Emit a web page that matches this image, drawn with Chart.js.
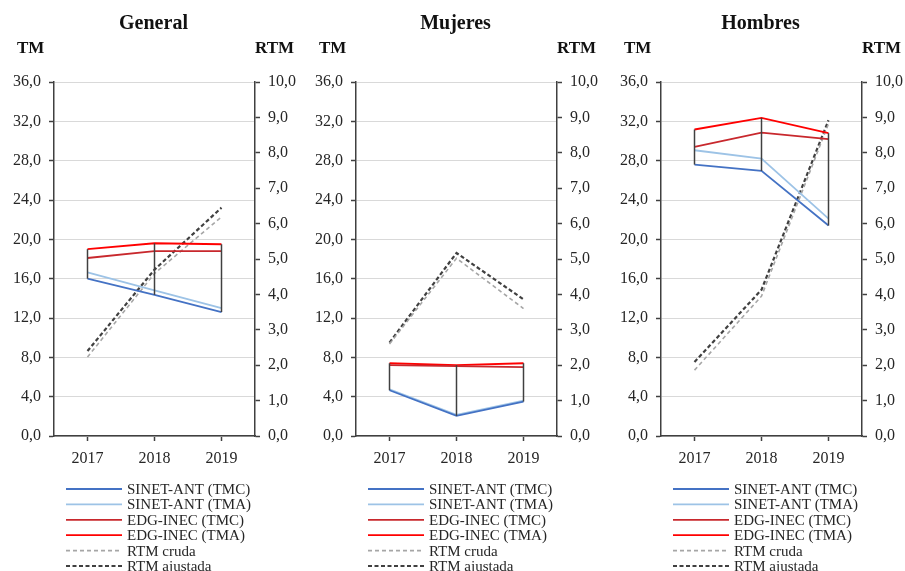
<!DOCTYPE html>
<html lang="es">
<head>
<meta charset="utf-8">
<title>Tasas de mortalidad (TM) y razón (RTM), 2017-2019</title>
<script src="https://cdn.jsdelivr.net/npm/chart.js@4.4.1/dist/chart.umd.min.js"></script>
<style>
  html, body { margin: 0; padding: 0; background: #ffffff; }
  #wrap { position: relative; width: 905px; height: 571px; overflow: hidden; }
  canvas { position: absolute; top: 0; }
</style>
</head>
<body>
<div id="wrap">
  <canvas id="cGeneral" width="302" height="571" style="left:0px"></canvas>
  <canvas id="cMujeres" width="302" height="571" style="left:302px"></canvas>
  <canvas id="cHombres" width="298" height="571" style="left:607px"></canvas>
</div>
<script>
// Categories and axis ticks
const years = ['2017', '2018', '2019'];
const tmTicks = [0, 4, 8, 12, 16, 20, 24, 28, 32, 36];
const rtmTicks = [0, 1, 2, 3, 4, 5, 6, 7, 8, 9, 10];

// General
const generalSinetTMC = [16.0, 14.35, 12.6];
const generalSinetTMA = [16.65, 14.8, 13.0];
const generalEdgTMC = [18.1, 18.8, 18.8];
const generalEdgTMA = [19.0, 19.6, 19.5];
const generalRtmCruda = [2.23, 4.59, 6.19];
const generalRtmAjustada = [2.40, 4.70, 6.45];

// Mujeres
const mujeresSinetTMC = [4.65, 2.05, 3.5];
const mujeresSinetTMA = [4.75, 2.15, 3.6];
const mujeresEdgTMC = [7.2, 7.1, 7.0];
const mujeresEdgTMA = [7.4, 7.2, 7.4];
const mujeresRtmCruda = [2.6, 5.02, 3.6];
const mujeresRtmAjustada = [2.64, 5.17, 3.86];

// Hombres
const hombresSinetTMC = [27.6, 26.96, 21.4];
const hombresSinetTMA = [29.06, 28.2, 22.1];
const hombresEdgTMC = [29.4, 30.86, 30.2];
const hombresEdgTMA = [31.17, 32.35, 30.8];
const hombresRtmCruda = [1.86, 3.95, 8.82];
const hombresRtmAjustada = [2.09, 4.13, 8.92];

const seriesNames = ['SINET-ANT (TMC)', 'SINET-ANT (TMA)', 'EDG-INEC (TMC)', 'EDG-INEC (TMA)', 'RTM cruda', 'RTM ajustada'];

const SERIF = "'Liberation Serif', 'Times New Roman', serif";
const INK = '#262626';
const AXIS = '#404040';

const fmt = v => Number(v).toFixed(1).replace('.', ',');

// Excel-style high-low lines joining the highest and lowest TM value of each year
const highLowLines = {
  id: 'highLowLines',
  afterDatasetsDraw(chart) {
    const { ctx } = chart;
    const x = chart.scales.x, y = chart.scales.y;
    const tmSets = chart.data.datasets.filter(d => d.yAxisID === 'y');
    ctx.save();
    ctx.strokeStyle = AXIS;
    ctx.lineWidth = 1.5;
    chart.data.labels.forEach((_, i) => {
      const vals = tmSets.map(d => d.data[i]);
      const px = x.getPixelForValue(i);
      ctx.beginPath();
      ctx.moveTo(px, y.getPixelForValue(Math.max(...vals)));
      ctx.lineTo(px, y.getPixelForValue(Math.min(...vals)));
      ctx.stroke();
    });
    ctx.restore();
  }
};

// Panel title, axis names and the legend block under each panel
const panelText = {
  id: 'panelText',
  afterDraw(chart, args, opts) {
    const { ctx, chartArea } = chart;
    ctx.save();
    ctx.fillStyle = '#111';
    ctx.textBaseline = 'middle';
    ctx.font = 'bold 20px ' + SERIF;
    ctx.textAlign = 'center';
    ctx.fillText(opts.title, (chartArea.left + chartArea.right) / 2 - 1, 24);
    ctx.font = 'bold 17px ' + SERIF;
    ctx.textAlign = 'left';
    ctx.fillText('TM', 17, 49);
    ctx.fillText('RTM', chartArea.right, 49);

    ctx.font = '15px ' + SERIF;
    ctx.fillStyle = INK;
    chart.data.datasets.forEach((d, i) => {
      const yy = 489 + i * 15.4;
      ctx.beginPath();
      ctx.strokeStyle = d.borderColor;
      ctx.lineWidth = d.borderWidth;
      ctx.setLineDash(d.borderDash || []);
      ctx.moveTo(66, yy);
      ctx.lineTo(122, yy);
      ctx.stroke();
      ctx.setLineDash([]);
      ctx.fillText(d.label, 127, yy + 1);
    });
    ctx.restore();
  }
};

function makePanel(canvasId, title, sTMC, sTMA, eTMC, eTMA, rCruda, rAjust) {
  const el = document.getElementById(canvasId);
  const W = el.width;
  const line = (label, data, color, width, axis, dash) => ({
    label, data, borderColor: color, backgroundColor: color, borderWidth: width,
    borderDash: dash, yAxisID: axis, pointRadius: 0, tension: 0, fill: false
  });
  new Chart(el, {
    type: 'line',
    data: {
      labels: years,
      datasets: [
        line(seriesNames[0], sTMC, '#4472C4', 1.8, 'y'),
        line(seriesNames[1], sTMA, '#9DC3E6', 1.8, 'y'),
        line(seriesNames[2], eTMC, '#C8282D', 1.8, 'y'),
        line(seriesNames[3], eTMA, '#FF0000', 1.8, 'y'),
        line(seriesNames[4], rCruda, '#A6A6A6', 1.6, 'y1', [4, 3]),
        line(seriesNames[5], rAjust, '#404040', 2.2, 'y1', [4, 2.5])
      ]
    },
    options: {
      responsive: false,
      animation: false,
      devicePixelRatio: 1,
      layout: { padding: { top: 82, left: 0, right: 0, bottom: 0 } },
      plugins: {
        legend: { display: false },
        tooltip: { enabled: false },
        panelText: { title }
      },
      scales: {
        x: {
          type: 'category',
          offset: true,
          grid: { display: true, drawOnChartArea: false, offset: false, tickLength: 5, tickColor: AXIS, tickWidth: 1.5 },
          border: { display: true, color: AXIS, width: 1.5 },
          ticks: { color: INK, font: { family: SERIF, size: 16 }, padding: 8, maxRotation: 0 },
          afterFit(s) { s.height = 571 - 436; }
        },
        y: {
          position: 'left',
          min: 0, max: 36,
          afterBuildTicks(s) { s.ticks = tmTicks.map(v => ({ value: v })); },
          grid: { color: '#D9D9D9', lineWidth: 1, tickLength: 5, tickColor: AXIS, tickWidth: 1.5, drawOnChartArea: true },
          border: { display: true, color: AXIS, width: 1.5 },
          ticks: { color: INK, font: { family: SERIF, size: 16 }, padding: 8, callback: v => fmt(v) },
          afterFit(s) { s.width = 54; }
        },
        y1: {
          position: 'right',
          min: 0, max: 10,
          afterBuildTicks(s) { s.ticks = rtmTicks.map(v => ({ value: v })); },
          grid: { drawOnChartArea: false, tickLength: 5, tickColor: AXIS, tickWidth: 1.5 },
          border: { display: true, color: AXIS, width: 1.5 },
          ticks: { color: INK, font: { family: SERIF, size: 16 }, padding: 8, callback: v => fmt(v) },
          afterFit(s) { s.width = W - 255; }
        }
      }
    },
    plugins: [highLowLines, panelText]
  });
}

makePanel('cGeneral', 'General', generalSinetTMC, generalSinetTMA, generalEdgTMC, generalEdgTMA, generalRtmCruda, generalRtmAjustada);
makePanel('cMujeres', 'Mujeres', mujeresSinetTMC, mujeresSinetTMA, mujeresEdgTMC, mujeresEdgTMA, mujeresRtmCruda, mujeresRtmAjustada);
makePanel('cHombres', 'Hombres', hombresSinetTMC, hombresSinetTMA, hombresEdgTMC, hombresEdgTMA, hombresRtmCruda, hombresRtmAjustada);
</script>
</body>
</html>
